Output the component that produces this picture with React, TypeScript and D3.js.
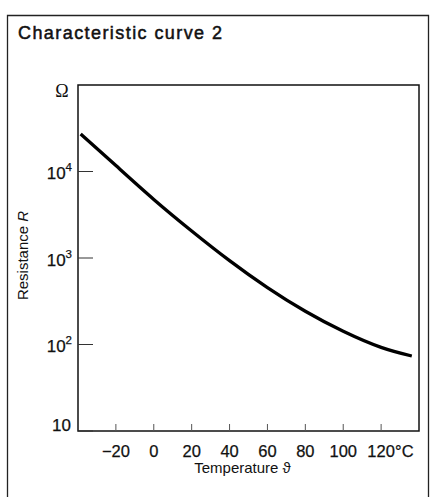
import React from "react";
import * as d3 from "d3";

const temps = [-38.6, -20, 0, 20, 40, 60, 80, 100, 120, 136.2];
const resistance = [27160, 11700, 4760, 2056, 933, 455, 242, 142, 92.5, 73.6];
const xTicks = [-20, 0, 20, 40, 60, 80, 100, 120];
const yTicks = [10, 100, 1000, 10000];
const yTickExp = [1, 2, 3, 4];

const W = 437;
const H = 497;
const L = 78, R = 419, T = 85, B = 431;

export default function App() {
  const x = d3.scaleLinear().domain([-40, 140]).range([L, R]);
  const y = d3.scaleLog().domain([10, 100000]).range([B, T]);
  const line = d3
    .line<number>()
    .x((_, i) => x(temps[i]))
    .y((d) => y(d))
    .curve(d3.curveNatural);
  const pathD = line(resistance) || "";
  const font = "'Liberation Sans', Arial, Helvetica, sans-serif";
  return (
    <svg
      width={W}
      height={H}
      style={{ position: "absolute", left: 0, top: 0, background: "#fff" }}
    >
      {/* outer frame */}
      <path d={`M7.5,${H + 2} V15.5 H428.5 V${H + 2}`} fill="none" stroke="#222" strokeWidth={1.3} />
      <text
        x={18}
        y={39}
        fontFamily={font}
        fontSize={18}
        stroke="#111"
        strokeWidth={0.5}
        fill="#111"
        textLength={204}
        lengthAdjust="spacing"
      >
        Characteristic curve 2
      </text>
      {/* plot box */}
      <rect x={L} y={T} width={R - L} height={B - T} fill="none" stroke="#111" strokeWidth={1.5} />
      {/* unit */}
      <text x={62} y={97} fontFamily="'Liberation Serif', 'DejaVu Serif', serif" fontSize={18} textAnchor="middle" fill="#111">
        Ω
      </text>
      {/* y ticks */}
      {yTicks.map((v, i) => (
        <g key={v}>
          <line x1={L} x2={L + 15} y1={y(v)} y2={y(v)} stroke="#333" strokeWidth={1} />
          <text
            x={yTickExp[i] > 1 ? 72 : 71}
            y={v === 10 ? y(v) - 0.5 : y(v) + 7.5}
            fontFamily={font}
            fontSize={17}
            textAnchor="end"
            fill="#111"
            stroke="#111"
            strokeWidth={0.25}
          >
            10
            {yTickExp[i] > 1 ? (
              <tspan fontSize={11.5} dy={-8}>
                {yTickExp[i]}
              </tspan>
            ) : null}
          </text>
        </g>
      ))}
      {/* x ticks */}
      {xTicks.map((v) => (
        <g key={v}>
          <line x1={x(v)} x2={x(v)} y1={B} y2={B - 7} stroke="#555" strokeWidth={1} />
          <text
            x={x(v)}
            y={456.5}
            fontFamily={font}
            fontSize={16.5}
            textAnchor="middle"
            fill="#111"
            stroke="#111"
            strokeWidth={0.25}
          >
            {v < 0 ? "\u2212" + Math.abs(v) : String(v)}
          </text>
        </g>
      ))}
      <text x={x(120) + 14} y={456.5} fontFamily={font} fontSize={16.5} fill="#111" stroke="#111" strokeWidth={0.25}>
        °C
      </text>
      {/* axis titles */}
      <text
        x={242.5}
        y={473}
        fontFamily={font}
        fontSize={15}
        textAnchor="middle"
        fill="#111"
      >
        Temperature ϑ
      </text>
      <text
        transform="translate(28,255.5) rotate(-90)"
        fontFamily={font}
        fontSize={15}
        textAnchor="middle"
        fill="#111"
      >
        Resistance <tspan fontStyle="italic">R</tspan>
      </text>
      {/* curve */}
      <path d={pathD} fill="none" stroke="#000" strokeWidth={3.3} strokeLinecap="butt" />
    </svg>
  );
}
